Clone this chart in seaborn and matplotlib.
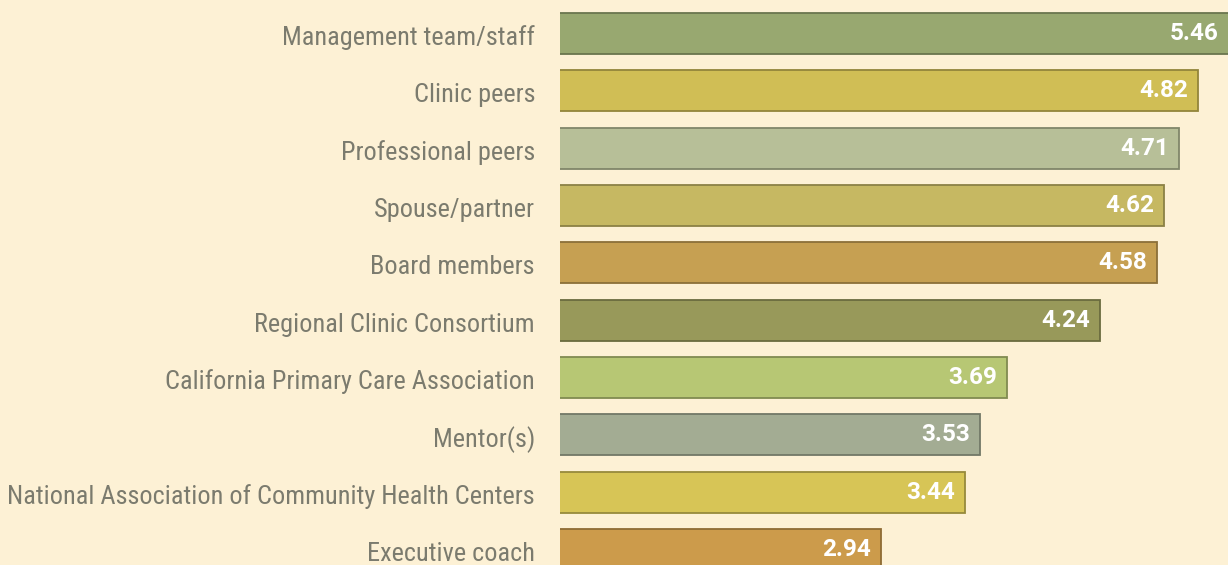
import pandas as pd
import matplotlib.pyplot as plt
import matplotlib.colors as mcolors
import matplotlib.transforms as mtransforms
from matplotlib import font_manager
import seaborn as sns

# data
sources = ['Management team/staff', 'Clinic peers', 'Professional peers', 'Spouse/partner',
           'Board members', 'Regional Clinic Consortium', 'California Primary Care Association',
           'Mentor(s)', 'National Association of Community Health Centers', 'Executive coach']
scores = [5.46, 4.82, 4.71, 4.62, 4.58, 4.24, 3.69, 3.53, 3.44, 2.94]
bar_colors = ['#98A870', '#D0BE55', '#B7BF98', '#C6B862', '#C6A052',
              '#98995A', '#B7C774', '#A3AC93', '#D7C556', '#CC9B4B']

df = pd.DataFrame({'source': sources, 'score': scores})

bg = '#FDF1D5'
txt = '#7B7B6E'

# pick a narrow font if one is installed
fonts = font_manager.fontManager.ttflist
names = {f.name for f in fonts}
font = 'Roboto'
for cand in ['Roboto Condensed', 'Liberation Sans Narrow', 'Open Sans Condensed']:
    if cand in names:
        font = cand
        break
value_font = 'Roboto' if 'Roboto' in names else 'DejaVu Sans'

sns.set_style('white')
plt.rcParams['font.family'] = [font, 'DejaVu Sans']

fig = plt.figure(figsize=(12.28, 5.65), dpi=100, facecolor=bg)
ax = fig.add_axes([560 / 1228, 0, 668 / 1228, 1])
ax.set_facecolor(bg)

edge_colors = [mcolors.to_hex([c * 0.7 for c in mcolors.to_rgb(col)]) for col in bar_colors]
sns.barplot(data=df, y='source', x='score', hue='source', palette=bar_colors, saturation=1,
            legend=False, orient='h', width=0.72, ax=ax, linewidth=1.3)
for patch, ec in zip(ax.patches, edge_colors):
    patch.set_edgecolor(ec)

xmax = 5.0
ax.set_xlim(1.04, xmax)
ax.set_ylim(9.27, -0.584)

# size the labels so the longest one spans about 525 px like the reference
renderer = fig.canvas.get_renderer()
probe = fig.text(0, 0, max(sources, key=len), fontsize=20)
w = probe.get_window_extent(renderer).width
probe.remove()
label_size = 20 * 525 / w

for i, v in enumerate(scores):
    ax.annotate(f'{v:.2f}', xy=(min(v, xmax), i), xytext=(-7, 0), textcoords='offset points',
                ha='right', va='center', color='white', fontsize=17.5,
                fontweight='bold', family=[value_font, 'DejaVu Sans'])

ax.set_xlabel('')
ax.set_ylabel('')
ax.set_xticks([])
ax.tick_params(axis='y', length=0, pad=18, labelsize=label_size, labelcolor=txt)
shift = mtransforms.ScaledTranslation(0, -2 / 100, fig.dpi_scale_trans)
for lab in ax.get_yticklabels():
    lab.set_transform(lab.get_transform() + shift)
sns.despine(ax=ax, left=True, bottom=True)

fig.savefig('out.png', dpi=100, facecolor=bg)
